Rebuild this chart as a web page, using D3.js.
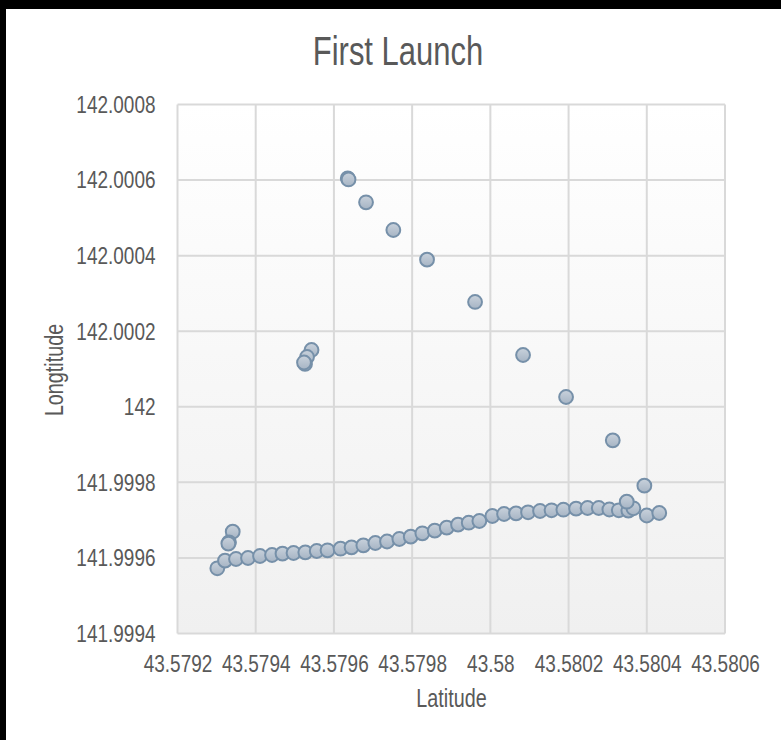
<!DOCTYPE html>
<html><head><meta charset="utf-8">
<script src="https://cdn.jsdelivr.net/npm/d3@7"></script>
<style>
html,body{margin:0;padding:0;background:#000;}
svg{display:block;}
</style></head>
<body>
<script>
const title = "First Launch";
const xTitle = "Latitude";
const yTitle = "Longtitude";
const xTicks = [43.5792, 43.5794, 43.5796, 43.5798, 43.58, 43.5802, 43.5804, 43.5806];
const yTicks = [141.9994, 141.9996, 141.9998, 142, 142.0002, 142.0004, 142.0006, 142.0008];
const latitude = [
  43.5793018, 43.5793215, 43.5793496, 43.5793803, 43.5794110, 43.5794417, 43.5794685, 43.5794967,
  43.5795268, 43.5795560, 43.5795836, 43.5796169, 43.5796450, 43.5796752, 43.5797059, 43.5797358,
  43.5797673, 43.5797964, 43.5798261, 43.5798578, 43.5798885, 43.5799174, 43.5799447, 43.5799719,
  43.5800051, 43.5800350, 43.5800657, 43.5800964, 43.5801271, 43.5801565, 43.5801867, 43.5802192,
  43.5802486, 43.5802772, 43.5803043, 43.5803284, 43.5803529, 43.5803657, 43.5803488, 43.5803999,
  43.5804319, 43.5793412, 43.5793317, 43.5793300,
  43.5796353, 43.5796373, 43.5796821, 43.5797519, 43.5798381, 43.5799609, 43.5800836, 43.5801936,
  43.5803130, 43.5803938,
  43.5795427, 43.5795312, 43.5795261, 43.5795235
];
const longitude = [
  141.9995726, 141.9995927, 141.9995972, 141.9995998, 141.9996051, 141.9996078, 141.9996112, 141.9996131,
  141.9996149, 141.9996183, 141.9996202, 141.9996244, 141.9996281, 141.9996334, 141.9996395, 141.9996435,
  141.9996501, 141.9996562, 141.9996652, 141.9996721, 141.9996800, 141.9996880, 141.9996932, 141.9996977,
  141.9997110, 141.9997163, 141.9997181, 141.9997208, 141.9997242, 141.9997261, 141.9997276, 141.9997303,
  141.9997321, 141.9997321, 141.9997282, 141.9997261, 141.9997250, 141.9997314, 141.9997488, 141.9997123,
  141.9997189, 141.9996694, 141.9996414, 141.9996380,
  142.0006047, 142.0006016, 142.0005412, 142.0004679, 142.0003893, 142.0002774, 142.0001371, 142.0000259,
  141.9999113, 141.9997912,
  142.0001503, 142.0001318, 142.0001133, 142.0001172
];
const points = latitude.map((d, i) => ({x: d, y: longitude[i]}));

const W = 781, H = 740;
const plot = {left: 177.5, right: 725, top: 104.5, bottom: 633.5};
const font = "'Liberation Sans',Arial,sans-serif";
const S = 0.775; // horizontal condense factor (narrow face)
const txtColor = "#595959";

const svg = d3.select("body").append("svg").attr("width", W).attr("height", H);
const defs = svg.append("defs");
const bg = defs.append("linearGradient").attr("id", "bg").attr("x1", 0).attr("y1", 0).attr("x2", 0).attr("y2", 1);
bg.append("stop").attr("offset", "0%").attr("stop-color", "#ffffff");
bg.append("stop").attr("offset", "100%").attr("stop-color", "#f0f0f0");
const mg = defs.append("linearGradient").attr("id", "mk").attr("x1", 0).attr("y1", 0).attr("x2", 0).attr("y2", 1);
mg.append("stop").attr("offset", "0%").attr("stop-color", "#c9d2dc");
mg.append("stop").attr("offset", "100%").attr("stop-color", "#a6b4c4");

svg.append("rect").attr("x", 6).attr("y", 9).attr("width", W - 6).attr("height", H - 9).attr("fill", "#fff");

const x = d3.scaleLinear().domain([xTicks[0], xTicks[xTicks.length - 1]]).range([plot.left, plot.right]);
const y = d3.scaleLinear().domain([yTicks[0], yTicks[yTicks.length - 1]]).range([plot.bottom, plot.top]);

svg.append("rect").attr("x", plot.left).attr("y", plot.top)
  .attr("width", plot.right - plot.left).attr("height", plot.bottom - plot.top)
  .attr("fill", "url(#bg)");

const gridColor = "#d9d9d9";
svg.append("g").selectAll("line").data(xTicks).join("line")
  .attr("x1", d => x(d)).attr("x2", d => x(d)).attr("y1", plot.top).attr("y2", plot.bottom)
  .attr("stroke", gridColor).attr("stroke-width", 2);
svg.append("g").selectAll("line").data(yTicks).join("line")
  .attr("y1", d => y(d)).attr("y2", d => y(d)).attr("x1", plot.left).attr("x2", plot.right)
  .attr("stroke", gridColor).attr("stroke-width", 2);

const fmt = d => String(+d.toFixed(4));
const xAxis = svg.append("g").attr("transform", `translate(0,${plot.bottom})`)
  .call(d3.axisBottom(x).tickValues(xTicks).tickFormat(fmt).tickSize(0).tickPadding(21));
const yAxis = svg.append("g").attr("transform", `translate(${plot.left},0)`)
  .call(d3.axisLeft(y).tickValues(yTicks).tickFormat(fmt).tickSize(0).tickPadding(22));
[xAxis, yAxis].forEach(a => {
  a.select(".domain").remove();
  a.selectAll("text").attr("font-family", font).attr("font-size", 24.5).attr("fill", txtColor)
    .attr("x", function() { return (+d3.select(this).attr("x") || 0) / S; })
    .attr("transform", `scale(${S},1)`);
});

svg.append("g").selectAll("circle").data(points).join("circle")
  .attr("cx", d => x(d.x)).attr("cy", d => y(d.y)).attr("r", 6.9)
  .attr("fill", "url(#mk)").attr("stroke", "#7690a9").attr("stroke-width", 2);

svg.append("text").attr("transform", `translate(398,65) scale(${S},1)`).attr("text-anchor", "middle")
  .attr("font-family", font).attr("font-size", 40).attr("fill", txtColor).text(title);
svg.append("text").attr("transform", `translate(451.5,707) scale(${S},1)`).attr("text-anchor", "middle")
  .attr("font-family", font).attr("font-size", 25.5).attr("fill", txtColor).text(xTitle);
svg.append("text").attr("transform", `translate(62.5,370) rotate(-90) scale(${S},1)`).attr("text-anchor", "middle")
  .attr("font-family", font).attr("font-size", 25.5).attr("fill", txtColor).text(yTitle);
</script>
</body></html>
